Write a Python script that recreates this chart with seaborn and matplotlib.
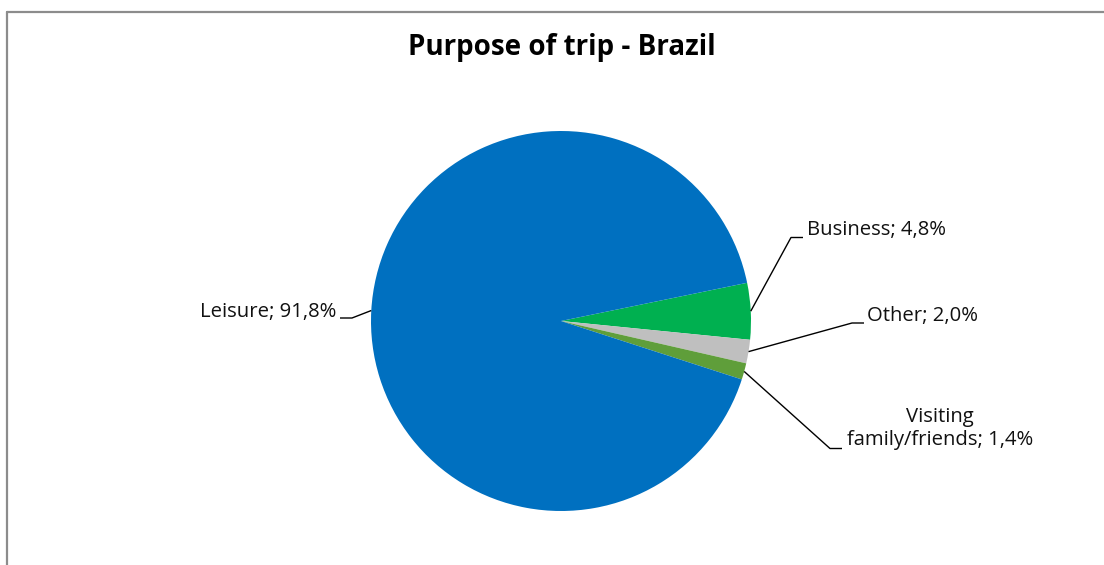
import numpy as np
import matplotlib
matplotlib.use("Agg")
import matplotlib.pyplot as plt
from matplotlib.lines import Line2D
import seaborn as sns

# ---- data ----
categories = ["Business", "Other", "Visiting\nfamily/friends", "Leisure"]
values = [4.8, 2.0, 1.4, 91.8]
value_labels = ["4,8%", "2,0%", "1,4%", "91,8%"]
colors = ["#00B050", "#BFBFBF", "#5F9E3A", "#0070C0"]
title = "Purpose of trip - Brazil"

sns.set_theme(style="white")
plt.rcParams["font.family"] = ["Open Sans", "DejaVu Sans"]

W, H = 1104, 565
fig = plt.figure(figsize=(W / 100, H / 100), dpi=100)
fig.patch.set_facecolor("white")

# pie center / radius in pixels
cx, cy, R = 561, 321, 190
ax = fig.add_axes([(cx - R) / W, (H - cy - R) / H, 2 * R / W, 2 * R / H])
ax.set_xlim(-1, 1)
ax.set_ylim(-1, 1)
ax.set_aspect("equal")
ax.axis("off")

start = 11.6
wedges, _ = ax.pie(values, colors=colors, startangle=start, counterclock=False,
                   radius=1.0, center=(0, 0), wedgeprops=dict(linewidth=0))
ax.set_xlim(-1, 1)
ax.set_ylim(-1, 1)


def px(x, y):
    return ((x - cx) / R, (cy - y) / R)


# label layout (pixel positions of elbow, line end and text anchor)
layout = [
    dict(elbow=(791, 237.5), end=(803, 237.5), text=(807, 230), ha="left"),
    dict(elbow=(852, 323), end=(864, 323), text=(867, 316.5), ha="left"),
    dict(elbow=(830, 448.5), end=(842, 448.5), text=(940, 428.5), ha="center"),
    dict(elbow=(352, 318), end=(340, 318), text=(336, 311.5), ha="right"),
]

for w, cat, vl, lay in zip(wedges, categories, value_labels, layout):
    theta = np.deg2rad((w.theta1 + w.theta2) / 2)
    ex, ey = np.cos(theta), np.sin(theta)
    p1 = px(*lay["elbow"])
    p2 = px(*lay["end"])
    ax.plot([ex, p1[0], p2[0]], [ey, p1[1], p2[1]], color="black", lw=1.0,
            clip_on=False, solid_capstyle="butt")
    tx, ty = px(*lay["text"])
    ax.text(tx, ty, f"{cat}; {vl}", ha=lay["ha"], va="center",
            multialignment="center", fontsize=14.6, color="#111111",
            linespacing=1.2, clip_on=False)

fig.text(562 / W, 1 - 48 / H, title, ha="center", va="center",
         fontsize=20, fontweight="bold", color="black")

# outer chart frame (top / left)
fx, fy = 6.5 / W, 1 - 11.5 / H
fig.add_artist(Line2D([fx, fx], [0, fy], transform=fig.transFigure,
                      color="#8c8c8c", lw=1.6))
fig.add_artist(Line2D([fx, 1], [fy, fy], transform=fig.transFigure,
                      color="#8c8c8c", lw=1.6))

fig.savefig("out.png", dpi=100, facecolor="white")
